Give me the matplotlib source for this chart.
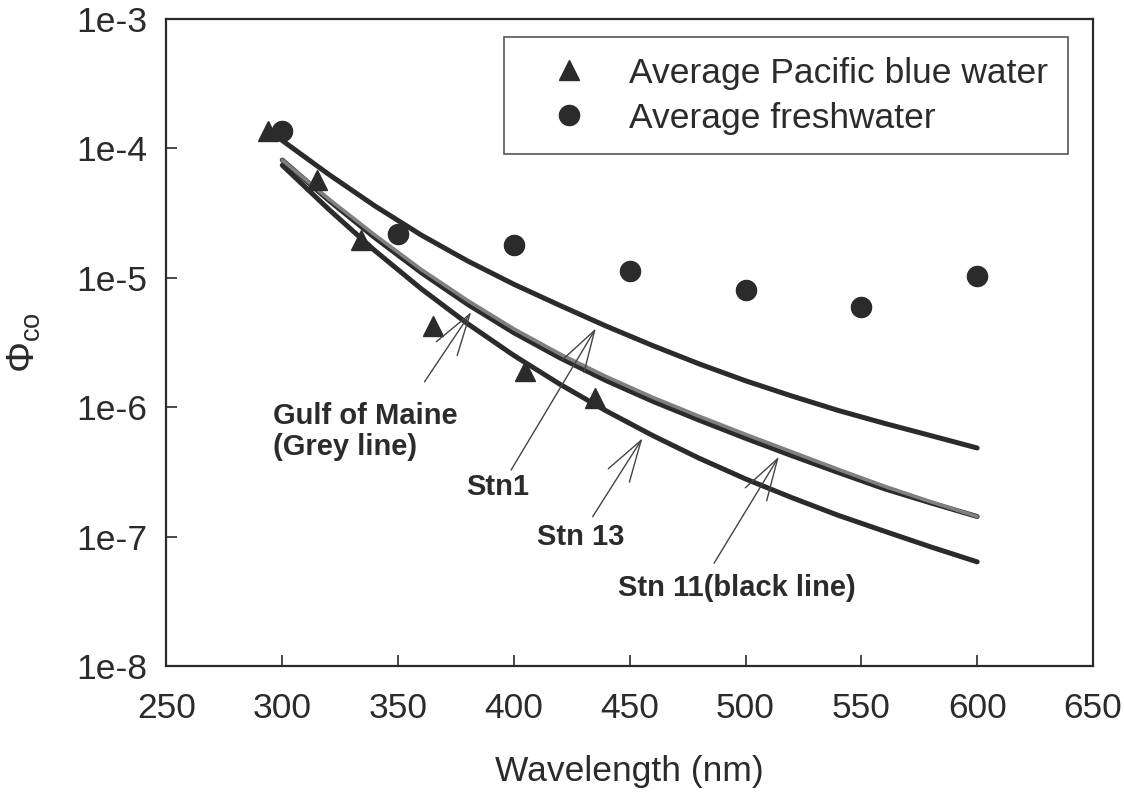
import matplotlib
matplotlib.use('Agg')
import matplotlib.pyplot as plt

plt.rcParams['font.family'] = ['Liberation Sans', 'DejaVu Sans']
plt.rcParams['mathtext.fontset'] = 'custom'
plt.rcParams['mathtext.rm'] = 'Liberation Sans'
plt.rcParams['mathtext.it'] = 'Liberation Sans:italic'

# measured points
pacific_wl = [294, 315, 334, 365, 405, 435]
pacific_phi = [1.36e-4, 5.7e-5, 1.96e-5, 4.25e-6, 1.9e-6, 1.18e-6]

fresh_wl = [300, 350, 400, 450, 500, 550, 600]
fresh_phi = [1.36e-4, 2.18e-5, 1.79e-5, 1.13e-5, 8.05e-6, 5.94e-6, 1.03e-5]

# fitted spectra
curve_wl = [300, 320, 340, 360, 380, 400, 420, 440, 460, 480, 500, 520, 540, 560, 580, 600]
stn1 = [1.15e-4, 6.31e-5, 3.59e-5, 2.14e-5, 1.35e-5, 8.91e-6, 6.10e-6, 4.22e-6,
        2.99e-6, 2.16e-6, 1.60e-6, 1.22e-6, 9.44e-7, 7.50e-7, 6.03e-7, 4.84e-7]
stn11 = [8.13e-5, 3.98e-5, 2.04e-5, 1.096e-5, 6.24e-6, 3.76e-6, 2.40e-6, 1.60e-6,
         1.11e-6, 7.94e-7, 5.75e-7, 4.22e-7, 3.13e-7, 2.34e-7, 1.82e-7, 1.43e-7]
gulf_maine = [8.13e-5, 4.07e-5, 2.14e-5, 1.16e-5, 6.68e-6, 4.03e-6, 2.57e-6, 1.72e-6,
              1.19e-6, 8.51e-7, 6.17e-7, 4.52e-7, 3.31e-7, 2.45e-7, 1.86e-7, 1.43e-7]
stn13 = [7.41e-5, 3.39e-5, 1.62e-5, 8.22e-6, 4.42e-6, 2.51e-6, 1.50e-6, 9.33e-7,
         6.03e-7, 4.03e-7, 2.79e-7, 2.00e-7, 1.46e-7, 1.10e-7, 8.32e-8, 6.38e-8]

dark = '#2b2b2b'

fig = plt.figure(figsize=(11.24, 7.92), dpi=100)
ax = fig.add_axes([0.1481, 0.1591, 0.8243, 0.8169])

# curves
ax.plot(curve_wl, stn1, color=dark, lw=3.6, solid_capstyle='round', zorder=2)
ax.plot(curve_wl, stn11, color=dark, lw=3.6, solid_capstyle='round', zorder=2)
ax.plot(curve_wl, gulf_maine, color='#808080', lw=2.6, solid_capstyle='round', zorder=3)
ax.plot(curve_wl, stn13, color=dark, lw=3.6, solid_capstyle='round', zorder=2)

# markers
ax.plot(pacific_wl, pacific_phi, linestyle='none', marker='^', ms=15, color=dark,
        label='Average Pacific blue water', zorder=4)
ax.plot(fresh_wl, fresh_phi, linestyle='none', marker='o', ms=14.5, color=dark,
        label='Average freshwater', zorder=4)

ax.set_yscale('log')
ax.set_xlim(250, 650)
ax.set_ylim(1e-8, 1e-3)
ax.set_xticks(range(250, 651, 50))
ax.set_yticks([1e-8, 1e-7, 1e-6, 1e-5, 1e-4, 1e-3])
ax.set_yticklabels(['1e-8', '1e-7', '1e-6', '1e-5', '1e-4', '1e-3'])
ax.minorticks_off()
ax.tick_params(direction='in', length=8, width=1.2, labelsize=25.5, color=dark, labelcolor=dark)
ax.tick_params(axis='x', pad=19)
ax.tick_params(axis='y', pad=14)
for s in ax.spines.values():
    s.set_linewidth(1.6)
    s.set_color(dark)

ax.set_xlabel('Wavelength (nm)', fontsize=25.5, color=dark, labelpad=21)
ax.set_ylabel(r'$\Phi_{\rm co}$', fontsize=28, color=dark, labelpad=24)

# annotations
arrow = dict(arrowstyle='->,head_length=1.5,head_width=0.45', lw=1.0, color='#444444',
             shrinkA=0, shrinkB=0, mutation_scale=20)
lbl = dict(fontsize=21, fontweight='bold', color=dark)

ax.annotate('', xy=(381.6, 10**-5.264), xytext=(361.4, 10**-5.804), arrowprops=arrow, zorder=5)
ax.text(296, 10**-6.19, 'Gulf of Maine\n(Grey line)', ha='left', va='center',
        linespacing=1.15, **lbl)

ax.annotate('', xy=(435.4, 10**-5.39), xytext=(398.8, 10**-6.485), arrowprops=arrow, zorder=5)
ax.text(393, 10**-6.62, 'Stn1', ha='center', va='center', **lbl)

ax.annotate('', xy=(455.5, 10**-6.24), xytext=(434.0, 10**-6.846), arrowprops=arrow, zorder=5)
ax.text(428.7, 10**-7.0, 'Stn 13', ha='center', va='center', **lbl)

ax.annotate('', xy=(514.4, 10**-6.382), xytext=(486.4, 10**-7.206), arrowprops=arrow, zorder=5)
ax.text(496.3, 10**-7.4, 'Stn 11(black line)', ha='center', va='center', **lbl)

leg = ax.legend(loc='upper right', bbox_to_anchor=(0.973, 0.972), borderaxespad=0,
                fontsize=25.5, frameon=True, fancybox=False, edgecolor=dark,
                handlelength=2.6, handletextpad=0.4, borderpad=0.55, labelspacing=0.34,
                numpoints=1)
leg.get_frame().set_linewidth(1.2)
for t in leg.get_texts():
    t.set_color(dark)

fig.savefig('out.png', dpi=100)
